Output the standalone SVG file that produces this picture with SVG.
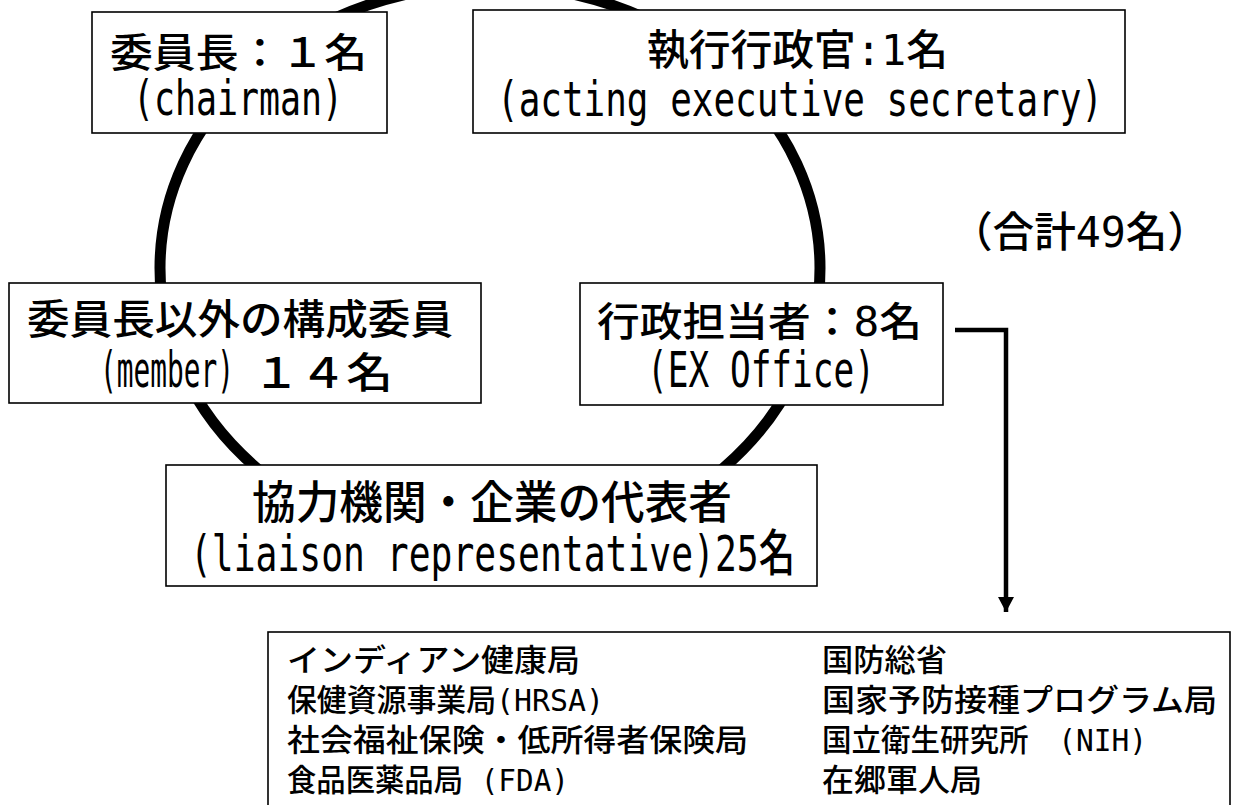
<svg xmlns="http://www.w3.org/2000/svg" width="1235" height="805" viewBox="0 0 1235 805">
<style>
.box{fill:#fff;stroke:#000;stroke-width:1.6}
.t{font-family:'DejaVu Sans Mono','Noto Sans CJK JP',monospace;fill:#000;font-weight:500}
.j{font-family:'Noto Sans CJK JP',sans-serif;fill:#000;font-weight:500}
.ring{fill:none;stroke:#000;stroke-width:11}
.link{fill:none;stroke:#000;stroke-width:4.5}
</style>
<defs>
<marker id="ah" markerUnits="userSpaceOnUse" viewBox="0 0 15 16" markerWidth="15" markerHeight="16" refX="15" refY="8" orient="auto">
<path d="M0,0 L15,8 L0,16 z" fill="#000"/>
</marker>
</defs>
<rect width="1235" height="805" fill="#fff"/>
<g id="connectors">
<ellipse class="ring" cx="490" cy="268" rx="330" ry="283"/>
<path class="link" d="M955 330 H1006 V612" marker-end="url(#ah)"/>
</g>
<g id="chairman">
<rect class="box" x="92" y="12" width="295" height="121"/>
<text class="j" x="110" y="67" font-size="40" textLength="257" lengthAdjust="spacingAndGlyphs">委員長：１名</text>
<text class="t" x="133" y="115" font-size="48" textLength="210" lengthAdjust="spacingAndGlyphs">(chairman)</text>
</g>
<g id="secretary">
<rect class="box" x="473" y="10" width="652" height="123"/>
<text class="t" x="647" y="65" font-size="42" textLength="301" lengthAdjust="spacingAndGlyphs">執行行政官:1名</text>
<text class="t" x="497" y="116" font-size="48" textLength="606" lengthAdjust="spacingAndGlyphs">(acting executive secretary)</text>
</g>
<g id="total">
<text class="t" x="951" y="247" font-size="42" textLength="258" lengthAdjust="spacingAndGlyphs">（合計49名）</text>
</g>
<g id="members">
<rect class="box" x="9" y="283" width="472" height="120"/>
<text class="j" x="27" y="334" font-size="41" textLength="426" lengthAdjust="spacingAndGlyphs">委員長以外の構成委員</text>
<text class="t" x="100" y="387" font-size="50" textLength="134" lengthAdjust="spacingAndGlyphs">(member)</text>
<text class="j" x="253" y="388" font-size="42" textLength="140" lengthAdjust="spacingAndGlyphs">１４名</text>
</g>
<g id="exoffice">
<rect class="box" x="580" y="283" width="363" height="122"/>
<text class="t" x="597" y="336" font-size="40" textLength="325" lengthAdjust="spacingAndGlyphs">行政担当者：8名</text>
<text class="t" x="647" y="387" font-size="50" textLength="228" lengthAdjust="spacingAndGlyphs">(EX Office)</text>
</g>
<g id="liaison">
<rect class="box" x="166" y="465" width="651" height="121"/>
<text class="j" x="252" y="519" font-size="45" textLength="480" lengthAdjust="spacingAndGlyphs">協力機関・企業の代表者</text>
<text class="t" x="190" y="571" font-size="50" textLength="605" lengthAdjust="spacingAndGlyphs">(liaison representative)25名</text>
</g>
<g id="agencies">
<rect class="box" x="268" y="632" width="962" height="190"/>
<text class="t" x="287" y="671" font-size="31" textLength="293" lengthAdjust="spacingAndGlyphs">インディアン健康局</text>
<text class="t" x="287" y="711" font-size="31" textLength="317" lengthAdjust="spacingAndGlyphs">保健資源事業局(HRSA)</text>
<text class="t" x="287" y="751" font-size="31" textLength="461" lengthAdjust="spacingAndGlyphs">社会福祉保険・低所得者保険局</text>
<text class="t" x="287" y="791" font-size="31" textLength="282" lengthAdjust="spacingAndGlyphs">食品医薬品局 (FDA)</text>
<text class="t" x="822" y="671" font-size="31" textLength="125" lengthAdjust="spacingAndGlyphs">国防総省</text>
<text class="t" x="822" y="711" font-size="31" textLength="395" lengthAdjust="spacingAndGlyphs">国家予防接種プログラム局</text>
<text class="t" x="822" y="751" font-size="31" textLength="325" lengthAdjust="spacingAndGlyphs">国立衛生研究所　(NIH)</text>
<text class="t" x="822" y="791" font-size="31" textLength="160" lengthAdjust="spacingAndGlyphs">在郷軍人局</text>
</g>
</svg>
